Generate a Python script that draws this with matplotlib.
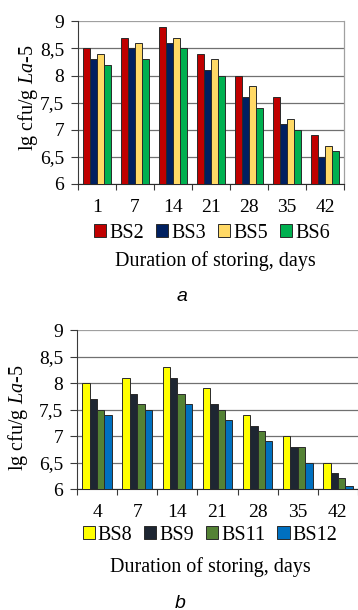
import numpy as np
import matplotlib
matplotlib.use('Agg')
import matplotlib.pyplot as plt

# ── data ──────────────────────────────────────────────────────────────────────
days_a = ['1', '7', '14', '21', '28', '35', '42']
names_a = ['BS2', 'BS3', 'BS5', 'BS6']
vals_a = [
    [8.5, 8.7, 8.9, 8.4, 8.0, 7.6, 6.9],   # BS2
    [8.3, 8.5, 8.6, 8.1, 7.6, 7.1, 6.5],   # BS3
    [8.4, 8.6, 8.7, 8.3, 7.8, 7.2, 6.7],   # BS5
    [8.2, 8.3, 8.5, 8.0, 7.4, 7.0, 6.6],   # BS6
]
colors_a = ['#C00000', '#002060', '#FFD966', '#00B050']

days_b = ['4', '7', '14', '21', '28', '35', '42']
names_b = ['BS8', 'BS9', 'BS11', 'BS12']
vals_b = [
    [8.0, 8.1, 8.3, 7.9, 7.4, 7.0, 6.5],   # BS8
    [7.7, 7.8, 8.1, 7.6, 7.2, 6.8, 6.3],   # BS9
    [7.5, 7.6, 7.8, 7.5, 7.1, 6.8, 6.2],   # BS11
    [7.4, 7.5, 7.6, 7.3, 6.9, 6.5, 6.05],  # BS12
]
colors_b = ['#FFFF00', '#1E2632', '#548235', '#0070C0']

yticks = [6, 6.5, 7, 7.5, 8, 8.5, 9]
ytick_labels = ['6', '6,5', '7', '7,5', '8', '8,5', '9']

# ── style ─────────────────────────────────────────────────────────────────────
plt.rcParams['font.family'] = 'Liberation Serif'
plt.rcParams['mathtext.fontset'] = 'custom'
plt.rcParams['mathtext.rm'] = 'Liberation Serif'
plt.rcParams['mathtext.it'] = 'Liberation Serif:italic'
FS = 14
W, H = 358, 610
fig = plt.figure(figsize=(W / 100, H / 100), dpi=100)


def px_axes(x0, y0, x1, y1):
    return fig.add_axes([x0 / W, 1 - y1 / H, (x1 - x0) / W, (y1 - y0) / H])


def draw_panel(ax, days, names, vals, colors, right_spine):
    n = len(names)
    bw = 0.185
    x = np.arange(len(days))
    for i in range(n):
        off = (i - (n - 1) / 2) * bw
        ax.bar(x + off, np.array(vals[i]) - 6, bw, bottom=6, color=colors[i],
               edgecolor='#2a2a2a', linewidth=0.7, label=names[i], zorder=3)
    ax.set_xlim(-0.5, len(days) - 0.5)
    ax.set_ylim(6, 9.005)
    ax.set_yticks(yticks)
    ax.set_yticklabels(ytick_labels, fontsize=FS)
    ax.grid(axis='y', color='#707070', linewidth=0.9, zorder=0)
    ax.get_ygridlines()[-1].set_color('#a0a0a0')
    ax.set_axisbelow(True)
    ax.set_xticks(np.arange(-0.5, len(days), 1.0))
    ax.set_xticklabels([])
    ax.set_xticks(x, minor=True)
    ax.set_xticklabels(days, minor=True, fontsize=FS)
    ax.tick_params(axis='x', which='major', length=4, color='#3a3a3a', width=0.8)
    ax.tick_params(axis='x', which='minor', length=0, pad=11)
    ax.tick_params(axis='y', length=5, color='#3a3a3a', width=0.8, pad=5)
    ax.spines['top'].set_visible(False)
    ax.spines['left'].set_color('#3a3a3a')
    ax.spines['bottom'].set_color('#2a2a2a')
    if right_spine:
        ax.spines['right'].set_color('#a0a0a0')
        ax.spines['right'].set_linewidth(0.9)
    else:
        ax.spines['right'].set_visible(False)
    for s in ('left', 'bottom'):
        ax.spines[s].set_linewidth(0.8)


ylab = 'lg cfu/g $\\mathit{La}$-$\\mathit{5}$'
leg_kw = dict(loc='center', ncol=4, frameon=False, fontsize=FS + 0.5,
              handlelength=0.6, handleheight=0.6, handletextpad=0.15,
              columnspacing=0.6, borderpad=0)

# panel a
ax1 = px_axes(78, 21, 344, 184)
draw_panel(ax1, days_a, names_a, vals_a, colors_a, True)
fig.legend(*ax1.get_legend_handles_labels(),
           bbox_to_anchor=(212 / W, 1 - 233 / H), **leg_kw)
fig.text(215 / W, 1 - 261 / H, 'Duration of storing, days', ha='center',
         va='center', fontsize=FS + 0.5)
fig.text(182 / W, 1 - 297 / H, 'a', ha='center', va='center', fontsize=FS,
         family='Liberation Sans', style='italic')
fig.text(28 / W, 1 - 98 / H, ylab, rotation=90, ha='center', va='center',
         fontsize=FS + 0.5)

# panel b
ax2 = px_axes(77, 330, 358, 489)
draw_panel(ax2, days_b, names_b, vals_b, colors_b, False)
fig.legend(*ax2.get_legend_handles_labels(),
           bbox_to_anchor=(210 / W, 1 - 535 / H), **leg_kw)
fig.text(210 / W, 1 - 567 / H, 'Duration of storing, days', ha='center',
         va='center', fontsize=FS + 0.5)
fig.text(180 / W, 1 - 603 / H, 'b', ha='center', va='center', fontsize=FS,
         family='Liberation Sans', style='italic')
fig.text(18 / W, 1 - 418 / H, ylab, rotation=90, ha='center', va='center',
         fontsize=FS + 0.5)

fig.savefig('out.png', dpi=100, facecolor='white')
